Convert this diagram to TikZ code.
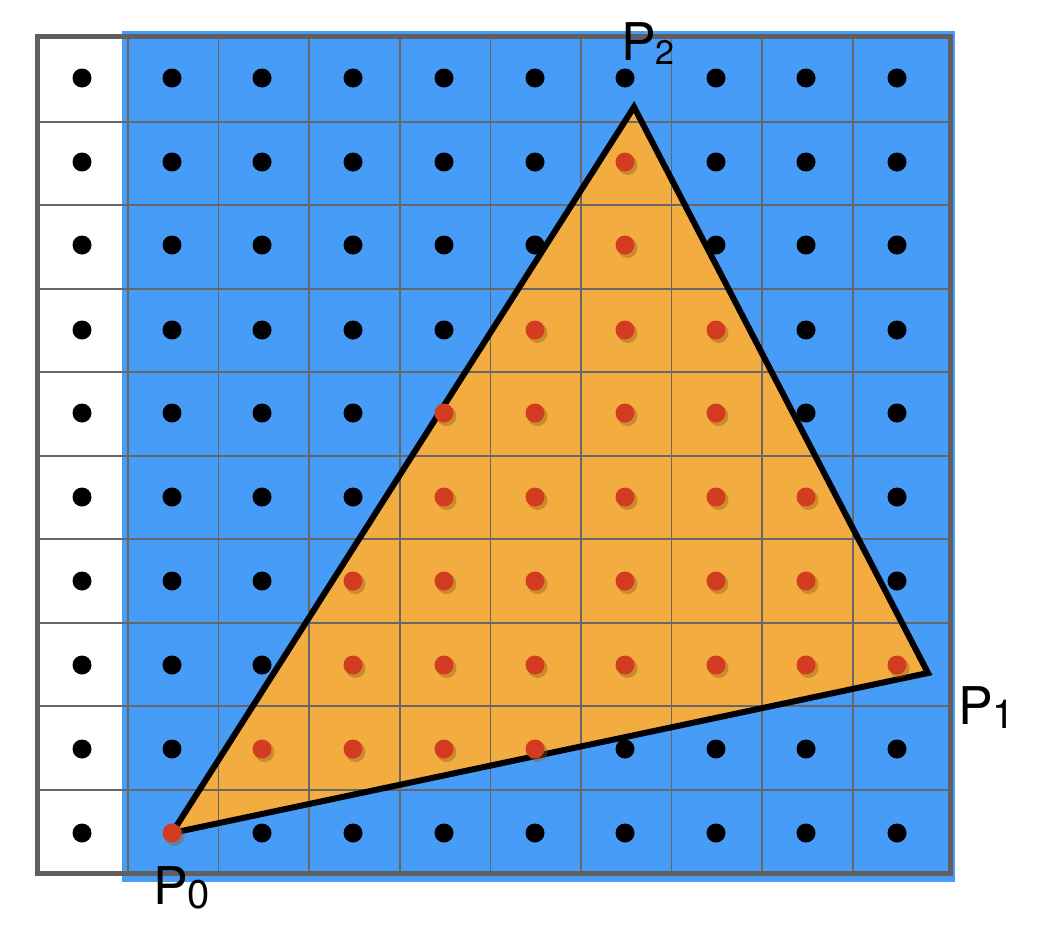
\documentclass[tikz,border=0pt]{standalone}
\usepackage{fontspec}
\setmainfont{TeX Gyre Heros}
\definecolor{gridblue}{HTML}{469CF6}
\definecolor{trifill}{HTML}{F3AC3F}
\definecolor{reddot}{HTML}{D33C20}
\definecolor{bordergray}{HTML}{5F5F5F}
\definecolor{linegray}{HTML}{676767}
\definecolor{shadowbrown}{HTML}{8A5A16}
\tikzset{
  gridline/.style={draw=linegray, line width=1.6pt},
  outerborder/.style={draw=bordergray, line width=5pt, line join=miter},
  triedge/.style={draw=black, line width=6pt, line join=miter, miter limit=20},
  blackdot/.style={fill=black},
  reddotstyle/.style={fill=reddot},
  dotshadow/.style={fill=shadowbrown, fill opacity=0.4},
  lbl/.style={inner sep=0pt, font=\fontsize{52}{52}\selectfont}
}
\newcommand{\subA}[1]{\raisebox{-4pt}{\fontsize{40}{40}\selectfont #1}}
\newcommand{\subB}[1]{\raisebox{-4pt}{\fontsize{34}{34}\selectfont #1}}
\begin{document}
\begin{tikzpicture}[x=1pt, y=-1pt]
\useasboundingbox (0,0) rectangle (1044,940);
% blue field
\fill[gridblue] (122,31) rectangle (955,882);
% triangle vertices
\coordinate (P0) at (172,833);
\coordinate (P1) at (928,673);
\coordinate (P2) at (634,107);
% triangle fill
\fill[trifill] (P0) -- (P1) -- (P2) -- cycle;
% grid lines
\foreach \gx in {128,218.6,309.2,399.8,490.4,581,671.6,762.2,852.8}
  \draw[gridline] (\gx,36) -- (\gx,873);
\foreach \gy in {121.7,205.2,288.7,372.2,455.7,539.2,622.7,706.2,789.7}
  \draw[gridline] (37,\gy) -- (950,\gy);
% outer border
\draw[outerborder] (37,36) rectangle (950,873);
% triangle outline
\draw[triedge] (P0) -- (P1) -- (P2) -- cycle;
% black sample dots
\foreach \yy/\xs in {
  78/{82,172,262,353,444,535,625,716,806,897},
  162/{82,172,262,353,444,535,716,806,897},
  245/{82,172,262,353,444,535,716,806,897},
  330/{82,172,262,353,444,806,897},
  413/{82,172,262,353,806,897},
  497/{82,172,262,353,897},
  581/{82,172,262,897},
  665/{82,172,262},
  749/{82,172,625,716,806,897},
  833/{82,262,353,444,535,625,716,806,897}}
  \foreach \xx in \xs
    \fill[blackdot] (\xx,\yy) circle[radius=9.5];
% red sample dots (inside triangle)
\foreach \yy/\xs in {
  162/{625},
  245/{625},
  330/{535,625,716},
  413/{444,535,625,716},
  497/{444,535,625,716,806},
  581/{353,444,535,625,716,806},
  665/{353,444,535,625,716,806,897},
  749/{262,353,444,535},
  833/{172}}
  \foreach \xx in \xs {
    \fill[dotshadow] (\xx+2.5,\yy+3) circle[radius=10];
    \fill[reddotstyle] (\xx,\yy) circle[radius=9.5];
  }
% labels
\node[lbl, anchor=base west] (L0) at (153,904) {P\subA{0}};
\node[lbl, anchor=base west] (L1) at (958,724) {P\subA{1}};
\node[lbl, anchor=base west] (L2) at (621,60) {P\subB{2}};
\end{tikzpicture}
\end{document}
